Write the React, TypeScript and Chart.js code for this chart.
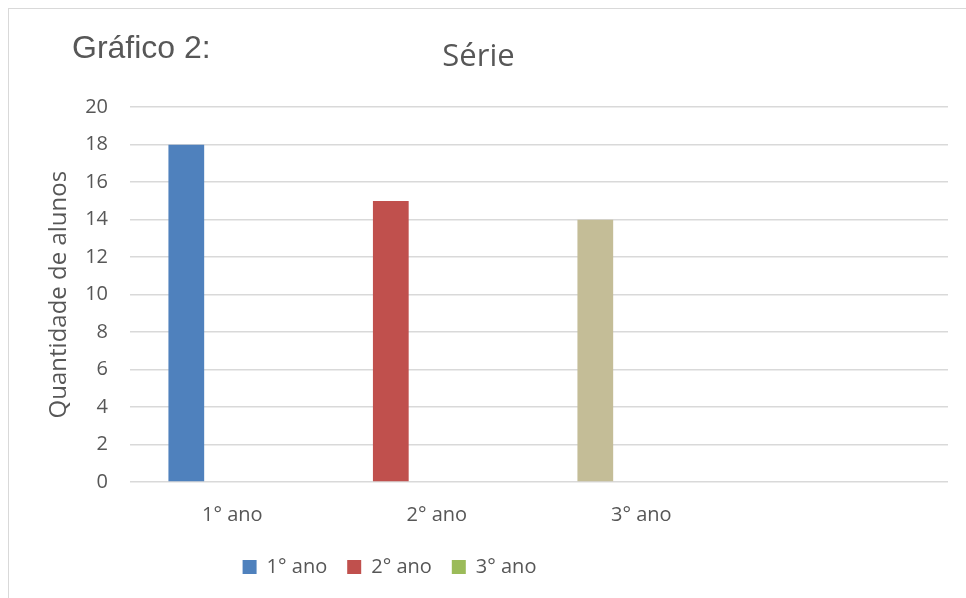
import React, { useEffect, useRef } from "react";
import { Chart, registerables } from "chart.js";

Chart.register(...registerables);

const categories = ["1° ano", "2° ano", "3° ano", ""];
const seriesValues = [18, 15, 14, null];
const emptySeries = [null, null, null, null];
const barColors = ["#4f81bd", "#c0504d", "#c4bd97", "#c4bd97"];
const legendLabels = ["1° ano", "2° ano", "3° ano"];
const legendColors = ["#4f81bd", "#c0504d", "#9bbb59"];
const yMin = 0;
const yMax = 20;
const yStep = 2;

const chartTitle = "Série";
const sideLabel = "Gráfico 2:";
const yAxisTitle = "Quantidade de alunos";

const TEXT = "#575757";
const GRID = "#d9d9d9";
const FAMILY = "'Open Sans', sans-serif";

const LEGEND_DX = -89;
const LEGEND_DY = 9;

const legendShift = {
  id: "legendShift",
  afterLayout(chart: any) {
    const l = chart.legend;
    if (l) {
      l.left += LEGEND_DX;
      l.right += LEGEND_DX;
      l.top += LEGEND_DY;
      l.bottom += LEGEND_DY;
    }
  },
};

export default function App() {
  const canvasRef = useRef<HTMLCanvasElement | null>(null);

  useEffect(() => {
    document.body.style.overflow = "hidden";
    const canvas = canvasRef.current;
    if (!canvas) return;
    const barOpts = { categoryPercentage: 0.674, barPercentage: 0.778 };
    const chart = new Chart(canvas, {
      type: "bar",
      data: {
        labels: categories,
        datasets: [
          { label: "Série", data: seriesValues, backgroundColor: barColors, ...barOpts },
          { label: "", data: emptySeries, backgroundColor: barColors, ...barOpts },
          { label: "", data: emptySeries, backgroundColor: barColors, ...barOpts },
        ],
      },
      options: {
        responsive: false,
        animation: false,
        devicePixelRatio: 1,
        layout: { padding: { left: 0, right: 18, top: 0, bottom: 20 } },
        plugins: {
          title: {
            display: true,
            text: chartTitle,
            color: TEXT,
            font: { family: FAMILY, size: 31, weight: "normal" },
            padding: { top: 30, bottom: 31 },
          },
          legend: {
            position: "bottom",
            labels: {
              boxWidth: 14,
              boxHeight: 14,
              padding: 20,
              color: TEXT,
              font: { family: FAMILY, size: 20 },
              generateLabels: () =>
                legendLabels.map((t, i) => ({
                  text: t,
                  fillStyle: legendColors[i],
                  strokeStyle: legendColors[i],
                  lineWidth: 0,
                  hidden: false,
                  datasetIndex: i,
                  fontColor: TEXT,
                })),
            },
          },
          tooltip: { enabled: false },
        },
        scales: {
          x: {
            grid: { display: false, drawTicks: false },
            border: { display: false },
            ticks: { color: TEXT, font: { family: FAMILY, size: 20 }, padding: 21 },
            afterFit: (s: any) => {
              s.height = 46;
            },
          },
          y: {
            min: yMin,
            max: yMax,
            ticks: { stepSize: yStep, color: TEXT, font: { family: FAMILY, size: 20 }, padding: 22 },
            grid: { color: GRID, lineWidth: 1.5, drawTicks: false },
            border: { display: false },
            title: {
              display: true,
              text: yAxisTitle,
              color: TEXT,
              font: { family: FAMILY, size: 24 },
              padding: { top: 36, bottom: 8 },
            },
            afterFit: (s: any) => {
              s.width = 121;
            },
          },
        },
      },
      plugins: [legendShift],
    });
    return () => chart.destroy();
  }, []);

  return (
    <div
      style={{
        position: "fixed",
        left: 8,
        top: 8,
        width: 958,
        height: 590,
        boxSizing: "border-box",
        borderTop: "1px solid #d9d9d9",
        borderLeft: "1px solid #d9d9d9",
        background: "#fff",
      }}
    >
      <canvas ref={canvasRef} width={957} height={589} style={{ display: "block", width: 957, height: 589 }} />
      <div
        style={{
          position: "absolute",
          left: 63,
          top: 22,
          fontFamily: "'Liberation Sans', Arial, sans-serif",
          fontSize: 32,
          lineHeight: "32px",
          color: TEXT,
          whiteSpace: "nowrap",
        }}
      >
        {sideLabel}
      </div>
    </div>
  );
}
